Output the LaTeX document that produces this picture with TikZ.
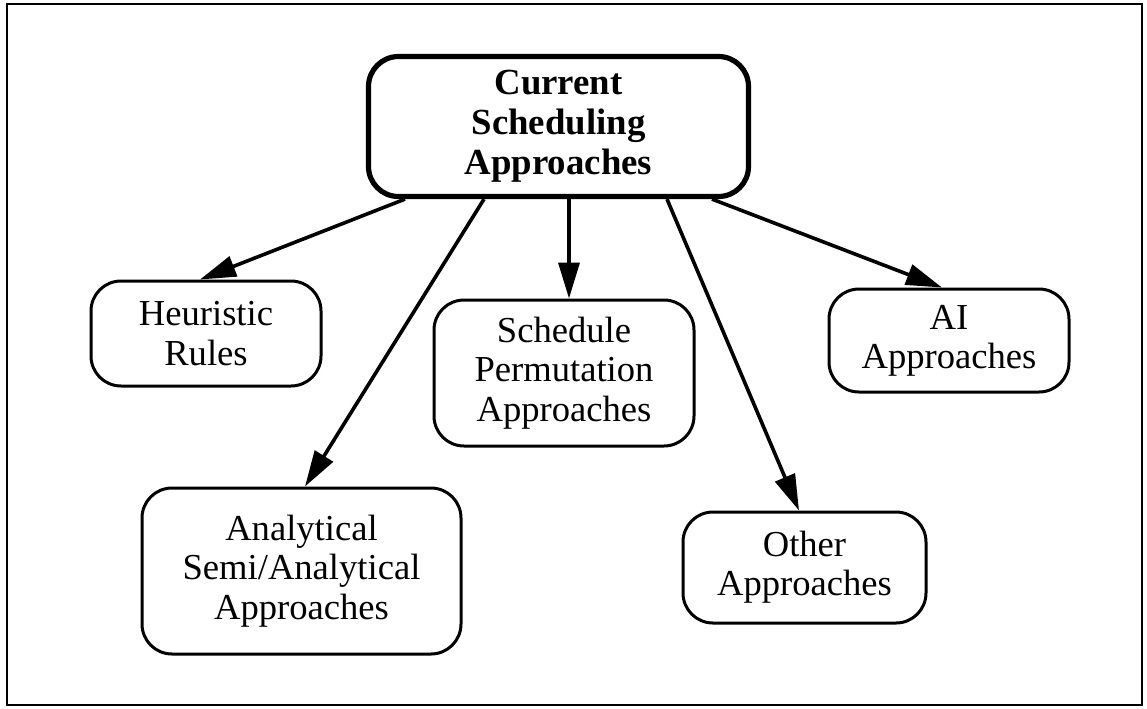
\documentclass[tikz,border=0pt]{standalone}
\usepackage{fontspec}
\setmainfont{Liberation Serif}
\usetikzlibrary{arrows.meta}
\begin{document}
\begin{tikzpicture}[x=0.5pt,y=-0.5pt,
  box/.style={draw, rectangle, rounded corners=15pt, line width=1.5pt,
    inner sep=0pt, align=center,
    font=\fontsize{18.3}{19.6}\selectfont},
  rootbox/.style={box, line width=2.6pt, font=\fontsize{18.4}{20}\selectfont\bfseries},
  link/.style={line width=1.8pt, -{Triangle[length=18pt,width=10.5pt]}}]
  \useasboundingbox (0,0) rectangle (1147,708);
  \draw[line width=1.1pt] (7,4) rectangle (1142,705);

  \node[rootbox, minimum width=190pt, minimum height=70pt] (root) at (558.5,126.5)
    {Current\\Scheduling\\Approaches};
  \node[box, minimum width=115pt, minimum height=52.5pt] (heur) at (206,333.5)
    {Heuristic\\Rules};
  \node[box, minimum width=130pt, minimum height=73pt] (perm) at (564,373)
    {Schedule\\Permutation\\Approaches};
  \node[box, minimum width=120pt, minimum height=51.5pt] (ai) at (949,340.5)
    {AI\\Approaches};
  \node[box, minimum width=159.5pt, minimum height=83pt] (anal) at (301.5,571)
    {Analytical\\Semi/Analytical\\Approaches};
  \node[box, minimum width=121.5pt, minimum height=55.5pt] (other) at (804.5,567.5)
    {Other\\Approaches};

  \draw[link] ([xshift=-76.75pt]root.south) -- ([xshift=-3pt]heur.north);
  \draw[link] ([xshift=-37.25pt]root.south) -- ([xshift=1.75pt]anal.north);
  \draw[link] ([xshift=5.25pt]root.south) -- ([xshift=2.5pt]perm.north);
  \draw[link] ([xshift=54.25pt]root.south) -- ([xshift=-2.75pt]other.north);
  \draw[link] ([xshift=76.75pt]root.south) -- ([xshift=-3.5pt]ai.north);
\end{tikzpicture}
\end{document}
